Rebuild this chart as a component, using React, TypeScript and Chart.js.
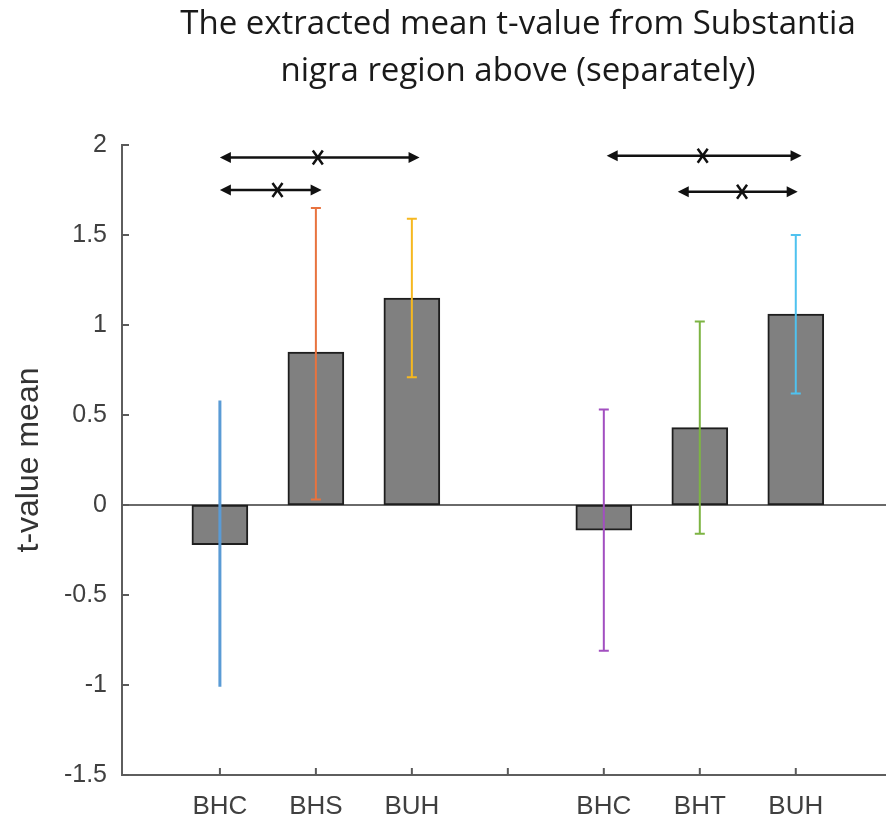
import React, { useEffect, useRef } from "react";
import { Chart, registerables } from "chart.js";

Chart.register(...registerables);

const titleLines = ["The extracted mean t-value from Substantia", "nigra region above (separately)"];
const yAxisTitle = "t-value mean";
const categories = ["BHC", "BHS", "BUH", "", "BHC", "BHT", "BUH"];
const means: (number | null)[] = [-0.22, 0.85, 1.15, null, -0.14, 0.43, 1.06];
const errLow: (number | null)[] = [-1.01, 0.03, 0.71, null, -0.81, -0.16, 0.62];
const errHigh: (number | null)[] = [0.58, 1.65, 1.59, null, 0.53, 1.02, 1.5];
const errColors = ["#5a9bd5", "#e8733f", "#f6b820", "", "#a24fc0", "#7db443", "#4fc2ef"];
const errCaps = [false, true, true, false, true, true, true];
const yTicks = [-1.5, -1, -0.5, 0, 0.5, 1, 1.5, 2];

// significance comparisons (x in category units, y in t-value units)
const sigFrom = [0, 0, 4.03, 4.77];
const sigTo = [2.08, 1.06, 6.06, 6.02];
const sigLevel = [1.93, 1.75, 1.94, 1.74];
const sigMark = [1.02, 0.6, 5.03, 5.44];

const overlayPlugin = {
  id: "overlay",
  beforeDatasetsDraw(chart: any) {
    const { ctx, chartArea, scales } = chart;
    const x = scales.x, y = scales.y;
    ctx.save();
    // title
    ctx.fillStyle = "#1a1a1a";
    ctx.font = "33px 'Open Sans'";
    ctx.textAlign = "center";
    ctx.textBaseline = "middle";
    titleLines.forEach((t, i) => ctx.fillText(t, 518, 25 + i * 47));
    // zero line
    const y0 = y.getPixelForValue(0);
    ctx.strokeStyle = "#6a6a6a";
    ctx.lineWidth = 2;
    ctx.beginPath();
    ctx.moveTo(chartArea.left, y0);
    ctx.lineTo(chartArea.right, y0);
    ctx.stroke();
    // inward ticks
    ctx.strokeStyle = "#5a5a5a";
    ctx.lineWidth = 2;
    yTicks.forEach((v) => {
      const py = y.getPixelForValue(v);
      ctx.beginPath();
      ctx.moveTo(chartArea.left, py);
      ctx.lineTo(chartArea.left + 7, py);
      ctx.stroke();
    });
    categories.forEach((_, i) => {
      const px = x.getPixelForValue(i);
      ctx.beginPath();
      ctx.moveTo(px, chartArea.bottom);
      ctx.lineTo(px, chartArea.bottom - 7);
      ctx.stroke();
    });
    ctx.restore();
  },
  afterDatasetsDraw(chart: any) {
    const { ctx, scales } = chart;
    const x = scales.x, y = scales.y;
    ctx.save();
    // error bars
    categories.forEach((_, i) => {
      const lo = errLow[i], hi = errHigh[i];
      if (lo == null || hi == null) return;
      const px = x.getPixelForValue(i);
      const pl = y.getPixelForValue(lo), ph = y.getPixelForValue(hi);
      ctx.strokeStyle = errColors[i];
      ctx.lineWidth = errCaps[i] ? 2 : 3;
      ctx.beginPath();
      ctx.moveTo(px, pl);
      ctx.lineTo(px, ph);
      if (errCaps[i]) {
        ctx.moveTo(px - 5, pl);
        ctx.lineTo(px + 5, pl);
        ctx.moveTo(px - 5, ph);
        ctx.lineTo(px + 5, ph);
      }
      ctx.stroke();
    });
    // significance arrows
    ctx.strokeStyle = "#111";
    ctx.fillStyle = "#111";
    sigFrom.forEach((f, k) => {
      const x1 = x.getPixelForValue(f), x2 = x.getPixelForValue(sigTo[k]);
      const py = y.getPixelForValue(sigLevel[k]);
      const head = 11, hw = 5.5;
      ctx.lineWidth = 2.5;
      ctx.beginPath();
      ctx.moveTo(x1 + head - 1, py);
      ctx.lineTo(x2 - head + 1, py);
      ctx.stroke();
      ctx.beginPath();
      ctx.moveTo(x1, py);
      ctx.lineTo(x1 + head, py - hw);
      ctx.lineTo(x1 + head, py + hw);
      ctx.closePath();
      ctx.fill();
      ctx.beginPath();
      ctx.moveTo(x2, py);
      ctx.lineTo(x2 - head, py - hw);
      ctx.lineTo(x2 - head, py + hw);
      ctx.closePath();
      ctx.fill();
      const mx = x.getPixelForValue(sigMark[k]);
      ctx.lineWidth = 2.5;
      ctx.beginPath();
      ctx.moveTo(mx - 5, py - 7);
      ctx.lineTo(mx + 5, py + 7);
      ctx.moveTo(mx + 5, py - 7);
      ctx.lineTo(mx - 5, py + 7);
      ctx.stroke();
    });
    ctx.restore();
  },
};

export default function App() {
  const ref = useRef<HTMLCanvasElement>(null);
  useEffect(() => {
    if (!ref.current) return;
    const data = means
      .map((v, i) => (v == null ? null : { x: i, y: v }))
      .filter((d) => d != null);
    const chart = new Chart(ref.current, {
      type: "bar",
      data: {
        datasets: [
          {
            data: data as any,
            backgroundColor: "#808080",
            borderColor: "#1e1e1e",
            borderWidth: 2,
            borderSkipped: false,
            barThickness: 56,
          },
        ],
      },
      options: {
        animation: false,
        responsive: false,
        devicePixelRatio: 1,
        layout: { padding: { top: 145, left: 0, right: 0, bottom: 0 } },
        plugins: {
          legend: { display: false },
          tooltip: { enabled: false },
          title: { display: false },
        },
        scales: {
          x: {
            type: "linear",
            offset: false,
            min: -1.02,
            max: 6.94,
            grid: { display: false, drawTicks: false, offset: false },
            border: { display: true, color: "#5e5e5e", width: 2 },
            afterBuildTicks: (scale: any) => {
              scale.ticks = categories.map((_, i) => ({ value: i }));
            },
            afterFit: (scale: any) => {
              scale.height = 49;
            },
            ticks: {
              autoSkip: false,
              maxRotation: 0,
              padding: 16,
              color: "#404040",
              font: { family: "'Liberation Sans'", size: 26 },
              callback: (v: any) => categories[v] ?? "",
            },
          },
          y: {
            min: -1.5,
            max: 2,
            grid: { display: false, drawTicks: false },
            border: { display: true, color: "#5e5e5e", width: 2 },
            afterBuildTicks: (scale: any) => {
              scale.ticks = yTicks.map((v) => ({ value: v }));
            },
            afterFit: (scale: any) => {
              scale.width = 122;
            },
            title: {
              display: true,
              text: yAxisTitle,
              color: "#333",
              font: { family: "'Liberation Sans'", size: 32 },
              padding: { top: 10, bottom: 0 },
            },
            ticks: {
              padding: 15,
              color: "#404040",
              font: { family: "'Liberation Sans'", size: 25 },
              callback: (v: any) => String(v),
            },
          },
        },
      },
      plugins: [overlayPlugin],
    });
    return () => chart.destroy();
  }, []);
  return (
    <div style={{ position: "fixed", left: 0, top: 0, width: 886, height: 824, background: "#fff" }}>
      <canvas ref={ref} width={886} height={824} />
    </div>
  );
}
